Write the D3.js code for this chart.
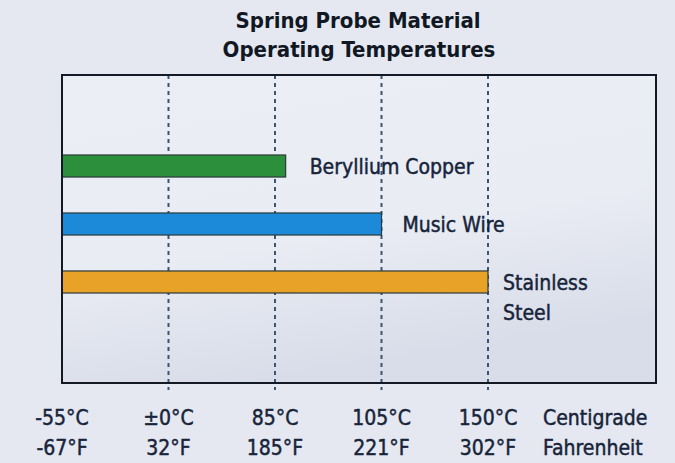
<!DOCTYPE html>
<html>
<head>
<meta charset="utf-8">
<script src="https://cdn.jsdelivr.net/npm/d3@7"></script>
<style>
  body { margin: 0; background: #e5e8f0; }
  text { font-family: "Liberation Sans Narrow", "DejaVu Sans Condensed", sans-serif; fill: #17243a; }
  text.thick { stroke: #17243a; stroke-width: 0.45; }
</style>
</head>
<body>
<div id="chart"></div>
<script>
const materials = ['Beryllium Copper', 'Music Wire', 'Stainless Steel'];
const maxTemps = [87, 105, 150];
const barColors = ['#2b8f3c', '#1d8ad9', '#e9a228'];

const tickCelsius = [-55, 0, 85, 105, 150];
const celsiusLabels = ['-55°C', '±0°C', '85°C', '105°C', '150°C'];
const fahrenheitLabels = ['-67°F', '32°F', '185°F', '221°F', '302°F'];
const unitLabels = ['Centigrade', 'Fahrenheit'];

const chartWidth = 675;
const chartHeight = 463;
const box = {left: 62, top: 75, right: 656, bottom: 383};
const step = 106.5;

// ticks are evenly spaced, not linear in temperature
const xScale = d3.scaleLinear()
    .domain(tickCelsius)
    .range(tickCelsius.map((d, i) => box.left + i * step));

const yScale = d3.scaleBand()
    .domain(materials)
    .range([126, 322])
    .paddingInner(0.62)
    .paddingOuter(0.5);

const svg = d3.select('#chart')
    .append('svg')
    .attr('width', chartWidth)
    .attr('height', chartHeight);

const defs = svg.append('defs');
const grad = defs.append('linearGradient')
    .attr('id', 'bg')
    .attr('x1', 0).attr('y1', 0).attr('x2', 0.3).attr('y2', 1);
grad.append('stop').attr('offset', '0%').attr('stop-color', '#eceef5');
grad.append('stop').attr('offset', '60%').attr('stop-color', '#e9ecf3');
grad.append('stop').attr('offset', '100%').attr('stop-color', '#d9dde9');

svg.append('rect')
    .attr('x', box.left)
    .attr('y', box.top)
    .attr('width', box.right - box.left)
    .attr('height', box.bottom - box.top)
    .attr('fill', 'url(#bg)');

// title
svg.append('text')
    .attr('x', 358)
    .attr('y', 28)
    .attr('text-anchor', 'middle')
    .attr('font-size', 22)
    .attr('font-weight', 'bold')
    .style('fill', '#111824')
    .text('Spring Probe Material');
svg.append('text')
    .attr('x', 359)
    .attr('y', 57)
    .attr('text-anchor', 'middle')
    .attr('font-size', 22)
    .attr('font-weight', 'bold')
    .style('fill', '#111824')
    .text('Operating Temperatures');

// dashed grid lines
svg.selectAll('line.grid')
    .data(tickCelsius.slice(1))
    .enter()
    .append('line')
    .attr('class', 'grid')
    .attr('x1', d => xScale(d))
    .attr('x2', d => xScale(d))
    .attr('y1', box.top)
    .attr('y2', box.bottom + 7)
    .attr('stroke', '#3b5673')
    .attr('stroke-width', 2)
    .attr('stroke-dasharray', '4,4');

// bars
svg.selectAll('rect.bar')
    .data(materials)
    .enter()
    .append('rect')
    .attr('class', 'bar')
    .attr('x', xScale(-55))
    .attr('y', d => yScale(d))
    .attr('width', (d, i) => xScale(maxTemps[i]) - xScale(-55))
    .attr('height', yScale.bandwidth())
    .attr('fill', (d, i) => barColors[i])
    .attr('stroke', '#2a3a3a')
    .attr('stroke-width', 1.2);

// bar labels
const labelDx = [24, 21, 15];
svg.selectAll('text.label')
    .data(materials)
    .enter()
    .append('text')
    .attr('class', 'label thick')
    .attr('x', (d, i) => xScale(maxTemps[i]) + labelDx[i])
    .attr('y', d => yScale(d) + yScale.bandwidth() / 2 + 8)
    .attr('font-size', 21)
    .each(function(d) {
        const words = d === 'Stainless Steel' ? ['Stainless', 'Steel'] : [d];
        const t = d3.select(this);
        words.forEach((w, k) => {
            t.append('tspan')
                .attr('x', t.attr('x'))
                .attr('dy', k === 0 ? 0 : 30)
                .text(w);
        });
    });

// frame
svg.append('path')
    .attr('d', `M${box.left},${box.top}H${box.right}V${box.bottom}H${box.left}Z`)
    .attr('fill', 'none')
    .attr('stroke', '#131a26')
    .attr('stroke-width', 2);

// axis labels
svg.selectAll('text.tc')
    .data(tickCelsius)
    .enter()
    .append('text')
    .attr('class', 'tc thick')
    .attr('x', d => xScale(d))
    .attr('y', 425)
    .attr('text-anchor', 'middle')
    .attr('font-size', 21)
    .text((d, i) => celsiusLabels[i]);

svg.selectAll('text.tf')
    .data(tickCelsius)
    .enter()
    .append('text')
    .attr('class', 'tf thick')
    .attr('x', d => xScale(d))
    .attr('y', 455)
    .attr('text-anchor', 'middle')
    .attr('font-size', 21)
    .text((d, i) => fahrenheitLabels[i]);

svg.selectAll('text.unit')
    .data(unitLabels)
    .enter()
    .append('text')
    .attr('class', 'unit thick')
    .attr('x', 543)
    .attr('y', (d, i) => 425 + i * 30)
    .attr('font-size', 21)
    .text(d => d);
</script>
</body>
</html>
